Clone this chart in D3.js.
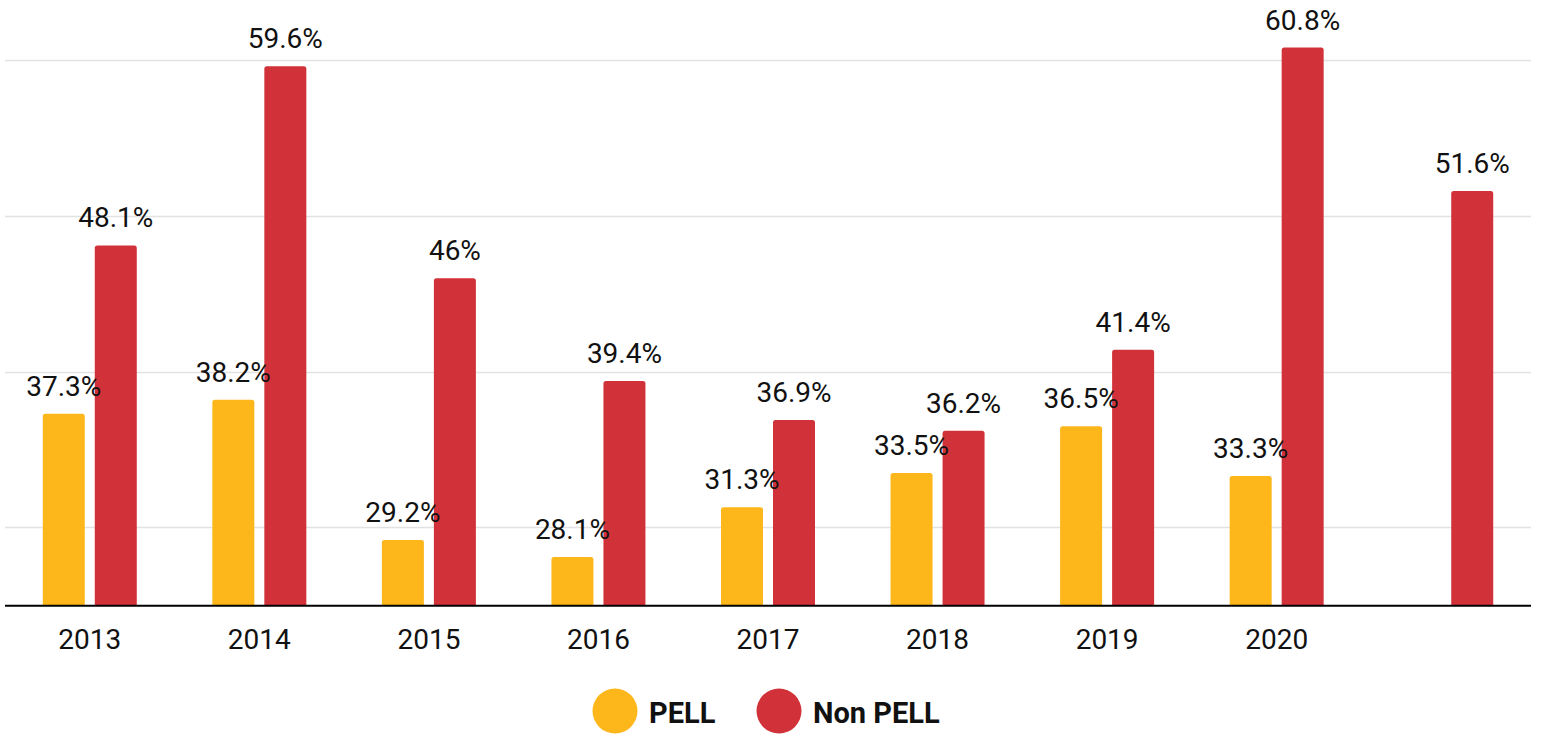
<!DOCTYPE html>
<html>
<head>
<meta charset="utf-8">
<script src="https://cdn.jsdelivr.net/npm/d3@7"></script>
<style>
  html, body { margin: 0; padding: 0; background: #fff; }
  svg { display: block; font-family: Roboto, "Noto Sans", sans-serif; }
</style>
</head>
<body>
<svg id="chart" width="1545" height="736"></svg>
<script>
// Completion rates by cohort year
const years = ["2013", "2014", "2015", "2016", "2017", "2018", "2019", "2020", ""];
const pell = [37.3, 38.2, 29.2, 28.1, 31.3, 33.5, 36.5, 33.3, null];
const nonPell = [48.1, 59.6, 46, 39.4, 36.9, 36.2, 41.4, 60.8, 51.6];
const gridValues = [30, 40, 50, 60];
const seriesNames = ["PELL", "Non PELL"];
const seriesColors = ["#FDB71B", "#D13239"];

const svg = d3.select("#chart");
const left = 5, right = 1531, bottom = 605.4;

const x = d3.scaleBand().domain(years).range([left, right]).padding(0);
const y = d3.scaleLinear().domain([25, 60]).range([bottom, 60]);

const barW = 42, gap = 10;

// horizontal gridlines
svg.append("g").selectAll("line").data(gridValues).join("line")
  .attr("x1", left).attr("x2", right)
  .attr("y1", d => Math.round(y(d)) + 0.5).attr("y2", d => Math.round(y(d)) + 0.5)
  .attr("stroke", "#e2e2e2").attr("stroke-width", 1.5);

const rows = years.map((yr, i) => ({ yr, vals: [pell[i], nonPell[i]] }));

// bar with rounded top corners
function topRounded(x0, y0, w, h, r) {
  r = Math.min(r, h);
  return `M${x0},${y0 + h}V${y0 + r}Q${x0},${y0} ${x0 + r},${y0}H${x0 + w - r}Q${x0 + w},${y0} ${x0 + w},${y0 + r}V${y0 + h}Z`;
}

const marks = [];
rows.forEach(r => {
  const c = x(r.yr) + x.bandwidth() / 2;
  r.vals.forEach((v, s) => {
    if (v == null) return;
    const bx = s === 0 ? c - gap / 2 - barW : c + gap / 2;
    marks.push({ v, s, bx });
  });
});

svg.append("g").selectAll("path").data(marks).join("path")
  .attr("d", d => topRounded(d.bx, y(d.v), barW, bottom - y(d.v), 2.5))
  .attr("fill", d => seriesColors[d.s]);

// value labels
svg.append("g").selectAll("text").data(marks).join("text")
  .attr("x", d => d.bx + barW / 2)
  .attr("y", d => y(d.v) - 18)
  .attr("text-anchor", "middle")
  .attr("font-size", 28)
  .attr("fill", "#111")
  .text(d => d.v + "%");

// baseline axis
const xAxis = d3.axisBottom(x).tickSize(0).tickPadding(0);
const ax = svg.append("g").attr("transform", `translate(0,${bottom})`).call(xAxis);
ax.select(".domain").remove();
ax.selectAll("text")
  .attr("dy", null)
  .attr("y", 44)
  .attr("font-size", 28)
  .attr("font-family", "Roboto, sans-serif")
  .attr("fill", "#111");
svg.append("line")
  .attr("x1", left).attr("x2", right)
  .attr("y1", bottom + 0.3).attr("y2", bottom + 0.3)
  .attr("stroke", "#000").attr("stroke-width", 2);

// legend
const legend = [{ cx: 615, tx: 649 }, { cx: 779, tx: 813 }];
const lg = svg.append("g");
legend.forEach((l, i) => {
  lg.append("circle").attr("cx", l.cx).attr("cy", 711).attr("r", 22.5).attr("fill", seriesColors[i]);
  lg.append("text").attr("x", l.tx).attr("y", 723)
    .attr("font-size", 29).attr("font-weight", "bold").attr("fill", "#111")
    .text(seriesNames[i]);
});
</script>
</body>
</html>
